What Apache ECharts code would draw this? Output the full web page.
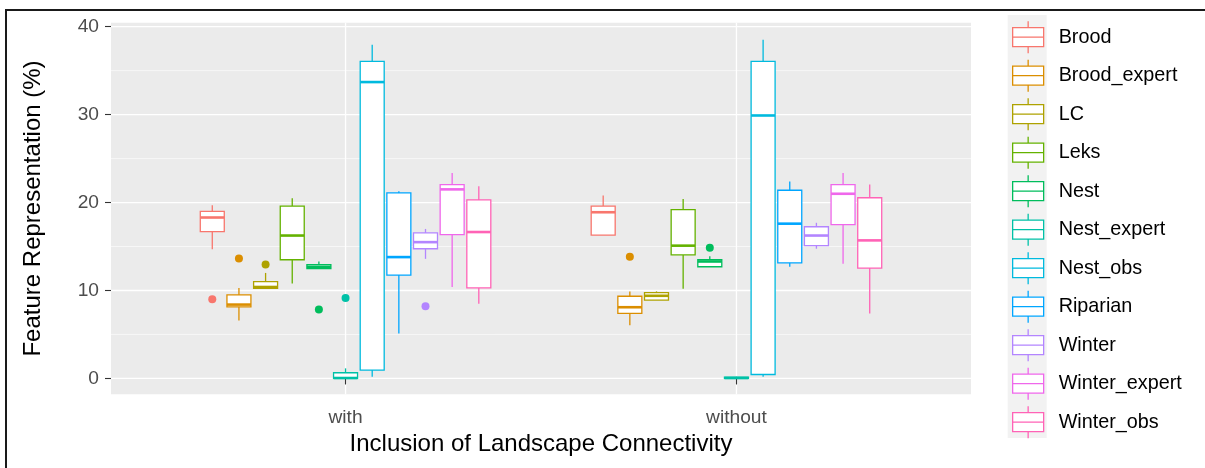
<!DOCTYPE html>
<html>
<head>
<meta charset="utf-8">
<title>Feature representation boxplot</title>
<script src="https://cdn.jsdelivr.net/npm/echarts@6.0.0/dist/echarts.min.js"></script>
<style>
  html, body { margin: 0; padding: 0; background: #fff; }
  #chart { width: 1205px; height: 468px; }
</style>
</head>
<body>
<div id="chart"></div>
<script>
  // categories on the x axis
  const categories = ['with', 'without'];
  // one box per group inside each category
  const groups = ['Brood', 'Brood_expert', 'LC', 'Leks', 'Nest', 'Nest_expert',
    'Nest_obs', 'Riparian', 'Winter', 'Winter_expert', 'Winter_obs'];
  const palette = ['#F8766D', '#DB8E00', '#AEA200', '#64B200', '#00BD5C', '#00C1A7',
    '#00BADE', '#00A6FF', '#B385FF', '#EF67EB', '#FF63B6'];

  // [lower whisker, Q1, median, Q3, upper whisker]
  const statsWith = [
    [14.7, 16.7, 18.3, 19.0, 19.7],
    [6.6, 8.15, 8.4, 9.5, 10.3],
    [10.25, 10.25, 10.4, 11.0, 12.0],
    [10.8, 13.5, 16.25, 19.6, 20.5],
    [12.5, 12.5, 12.7, 12.95, 13.3],
    [0, 0, 0.05, 0.65, 1.15],
    [0.2, 0.95, 33.7, 36.05, 37.95],
    [5.1, 11.75, 13.8, 21.1, 21.3],
    [13.6, 14.75, 15.5, 16.55, 17.0],
    [10.4, 16.35, 21.5, 22.05, 23.35],
    [8.5, 10.3, 16.65, 20.3, 21.85]
  ];
  const statsWithout = [
    [16.3, 16.3, 18.9, 19.6, 20.8],
    [6.05, 7.4, 8.1, 9.35, 9.9],
    [8.9, 8.9, 9.4, 9.75, 9.9],
    [10.2, 14.05, 15.1, 19.2, 20.4],
    [12.7, 12.7, 13.3, 13.5, 13.9],
    [0, 0, 0.05, 0.15, 0.2],
    [0.2, 0.45, 29.9, 36.05, 38.5],
    [12.7, 13.15, 17.6, 21.4, 22.4],
    [14.75, 15.1, 16.25, 17.25, 17.7],
    [13.05, 17.5, 21.0, 22.05, 23.35],
    [7.4, 12.55, 15.7, 20.55, 22.05]
  ];
  // outliers: [group index, category index, value]
  const outliers = [
    [0, 0, 9.0], [1, 0, 13.65], [2, 0, 12.95], [4, 0, 7.85], [5, 0, 9.15], [8, 0, 8.2],
    [1, 1, 13.85], [4, 1, 14.85]
  ];
  const yTicks = [0, 10, 20, 30, 40];
  const yMinor = [5, 15, 25, 35];

  const slot = 0.75 / groups.length;   // dodge width per box
  const offsetOf = g => (g - (groups.length - 1) / 2) * slot;

  const chart = echarts.init(document.getElementById('chart'));
  const font = "'Liberation Sans', Arial, sans-serif";

  function boxRenderer(g) {
    return function (params, api) {
      const cx = api.value(0) + offsetOf(g);
      const half = api.size([slot * 0.9, 0])[0] / 2;
      const lo = api.coord([cx, api.value(1)]);
      const q1 = api.coord([cx, api.value(2)]);
      const md = api.coord([cx, api.value(3)]);
      const q3 = api.coord([cx, api.value(4)]);
      const hi = api.coord([cx, api.value(5)]);
      const color = palette[g];
      return {
        type: 'group',
        children: [
          { type: 'line', shape: { x1: hi[0], y1: hi[1], x2: q3[0], y2: q3[1] },
            style: { stroke: color, lineWidth: 1.3 } },
          { type: 'line', shape: { x1: q1[0], y1: q1[1], x2: lo[0], y2: lo[1] },
            style: { stroke: color, lineWidth: 1.3 } },
          { type: 'rect', shape: { x: q3[0] - half, y: q3[1], width: half * 2, height: q1[1] - q3[1] },
            style: { fill: '#fff', stroke: color, lineWidth: 1.3 } },
          { type: 'line', shape: { x1: md[0] - half, y1: md[1], x2: md[0] + half, y2: md[1] },
            style: { stroke: color, lineWidth: 2.6 } }
        ]
      };
    };
  }

  // panel grid lines, drawn from the axis scales
  function gridRenderer(params, api) {
    const cs = params.coordSys;
    const children = [];
    yTicks.concat(yMinor).forEach(v => {
      const p = api.coord([1, v]);
      children.push({ type: 'line', shape: { x1: cs.x, y1: p[1], x2: cs.x + cs.width, y2: p[1] },
        style: { stroke: '#fff', lineWidth: yTicks.includes(v) ? 1.3 : 0.6 } });
    });
    categories.forEach((c, i) => {
      const p = api.coord([i + 1, 0]);
      children.push({ type: 'line', shape: { x1: p[0], y1: cs.y, x2: p[0], y2: cs.y + cs.height },
        style: { stroke: '#fff', lineWidth: 1.3 } });
    });
    return { type: 'group', children: children };
  }

  const series = [{
    type: 'custom', name: '_grid', silent: true, z: 0,
    renderItem: gridRenderer,
    data: [[1, 0]]
  }];

  groups.forEach((name, g) => {
    series.push({
      type: 'custom',
      name: name,
      z: 2,
      itemStyle: { color: palette[g] },
      renderItem: boxRenderer(g),
      encode: { x: 0, y: [1, 2, 3, 4, 5] },
      data: [[1].concat(statsWith[g]), [2].concat(statsWithout[g])]
    });
  });

  groups.forEach((name, g) => {
    const pts = outliers.filter(o => o[0] === g).map(o => [o[1] + 1 + offsetOf(g), o[2]]);
    if (!pts.length) return;
    series.push({
      type: 'scatter',
      name: name,
      z: 3,
      symbolSize: 8,
      itemStyle: { color: palette[g], opacity: 1 },
      data: pts
    });
  });

  chart.setOption({
    animation: false,
    textStyle: { fontFamily: font },
    grid: { left: 111, right: 234, top: 22.7, bottom: 73.7, show: true, backgroundColor: '#EBEBEB', borderWidth: 0 },
    xAxis: {
      type: 'value',
      min: 0.4, max: 2.6,
      name: 'Inclusion of Landscape Connectivity',
      nameLocation: 'middle',
      nameGap: 38,
      nameTextStyle: { fontSize: 24, color: '#000', fontFamily: font },
      axisLine: { show: false },
      axisTick: { show: true, length: 6, customValues: [1, 2], lineStyle: { color: '#333', width: 1.1 } },
      axisLabel: {
        customValues: [1, 2], margin: 14, fontSize: 19.2, color: '#4D4D4D', fontFamily: font,
        formatter: v => categories[Math.round(v) - 1]
      },
      splitLine: { show: false }
    },
    yAxis: {
      type: 'value',
      min: -1.8, max: 40.45,
      name: 'Feature Representation (%)',
      nameLocation: 'middle',
      nameRotate: 90,
      nameGap: 66,
      nameTextStyle: { fontSize: 24, color: '#000', fontFamily: font },
      axisLine: { show: false },
      axisTick: { show: true, length: 6, customValues: yTicks, lineStyle: { color: '#333', width: 1.1 } },
      axisLabel: { customValues: yTicks, margin: 12, fontSize: 19.2, color: '#4D4D4D', fontFamily: font },
      splitLine: { show: false }
    },
    legend: {
      data: groups.map((name, g) => ({
        name: name,
        itemStyle: { color: '#fff', borderColor: palette[g], borderWidth: 1.3 }
      })),
      orient: 'vertical',
      left: 1012, top: 20.5,
      padding: 0,
      itemWidth: 31, itemHeight: 32, itemGap: 5.2,
      selectedMode: false,
      icon: 'path://M15.5,0L15.5,6.5M0,6.5L31,6.5L31,25.5L0,25.5ZM0,16L31,16M15.5,25.5L15.5,32',
      textStyle: { fontSize: 19.8, color: '#000', fontFamily: font, padding: [0, 0, 0, 10] }
    },
    graphic: [
      { type: 'rect', z: -1, shape: { x: 1007.7, y: 15, width: 39, height: 423 }, style: { fill: '#F2F2F2' } },
      { type: 'polyline', z: 10, shape: { points: [[6, 468], [6, 10], [1205, 10]] },
        style: { stroke: '#1a1a1a', lineWidth: 2, fill: null } }
    ],
    series: series
  });
</script>
</body>
</html>
